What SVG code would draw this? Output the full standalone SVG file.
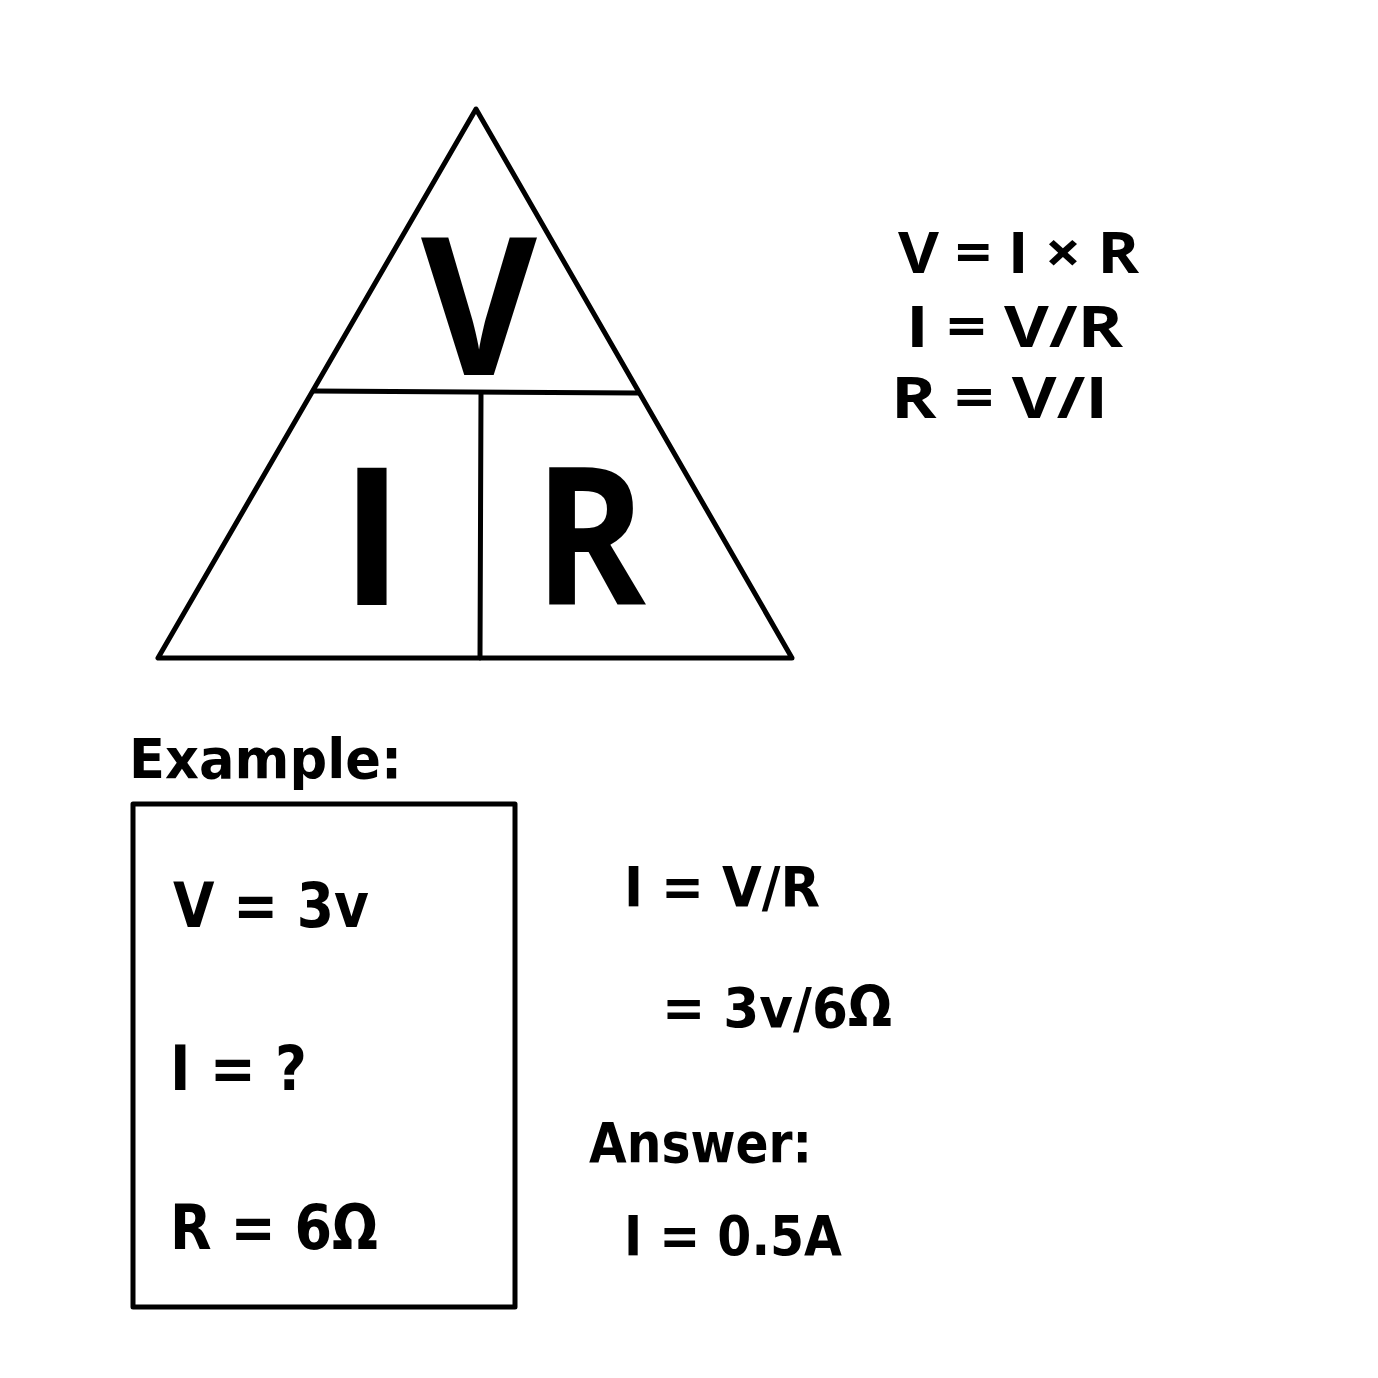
<svg xmlns="http://www.w3.org/2000/svg" width="1378" height="1378" viewBox="0 0 1378 1378">
<style>
.ln{fill:none;stroke:#000;stroke-width:5;stroke-linecap:round;stroke-linejoin:round}
.big{font-family:"Open Sans","Noto Sans",sans-serif;font-weight:700;font-size:193px;fill:#000;text-anchor:middle}
.f{font-family:"Open Sans","Noto Sans",sans-serif;font-weight:700;font-size:58px;fill:#000}
.d{font-family:"DejaVu Sans",sans-serif;font-weight:700;fill:#000}
</style>
<rect width="1378" height="1378" fill="#fff"/>
<g id="triangle">
<polygon class="ln" points="476,109 158,658 792,658"/>
<line class="ln" x1="314" y1="391" x2="638" y2="393"/>
<line class="ln" x1="481" y1="393" x2="480" y2="658"/>
<text class="big" x="479" y="375" textLength="116" lengthAdjust="spacingAndGlyphs">V</text>
<text class="big" x="372" y="605">I</text>
<text class="big" x="590" y="605" textLength="112" lengthAdjust="spacingAndGlyphs">R</text>
</g>
<g id="formulas">
<text class="f" x="898" y="273" textLength="241" lengthAdjust="spacingAndGlyphs">V = I × R</text>
<text class="f" x="906" y="347" textLength="217" lengthAdjust="spacingAndGlyphs">I = V/R</text>
<text class="f" x="891" y="418" textLength="217" lengthAdjust="spacingAndGlyphs">R = V/I</text>
</g>
<g id="example">
<text class="d" x="129" y="778" font-size="56" textLength="273" lengthAdjust="spacingAndGlyphs">Example:</text>
<rect class="ln" x="133" y="804" width="382" height="503" stroke-linejoin="miter"/>
<text class="d" x="173" y="927" font-size="62" textLength="196" lengthAdjust="spacingAndGlyphs">V = 3v</text>
<text class="d" x="170" y="1090" font-size="62" textLength="137" lengthAdjust="spacingAndGlyphs">I = ?</text>
<text class="d" x="170" y="1249" font-size="62" textLength="208" lengthAdjust="spacingAndGlyphs">R = 6Ω</text>
</g>
<g id="solution">
<text class="d" x="624" y="906" font-size="56" textLength="196" lengthAdjust="spacingAndGlyphs">I = V/R</text>
<text class="d" x="662" y="1027" font-size="56" textLength="230" lengthAdjust="spacingAndGlyphs">= 3v/6Ω</text>
<text class="d" x="589" y="1162" font-size="56" textLength="223" lengthAdjust="spacingAndGlyphs">Answer:</text>
<text class="d" x="624" y="1255" font-size="56" textLength="218" lengthAdjust="spacingAndGlyphs">I = 0.5A</text>
</g>
</svg>
